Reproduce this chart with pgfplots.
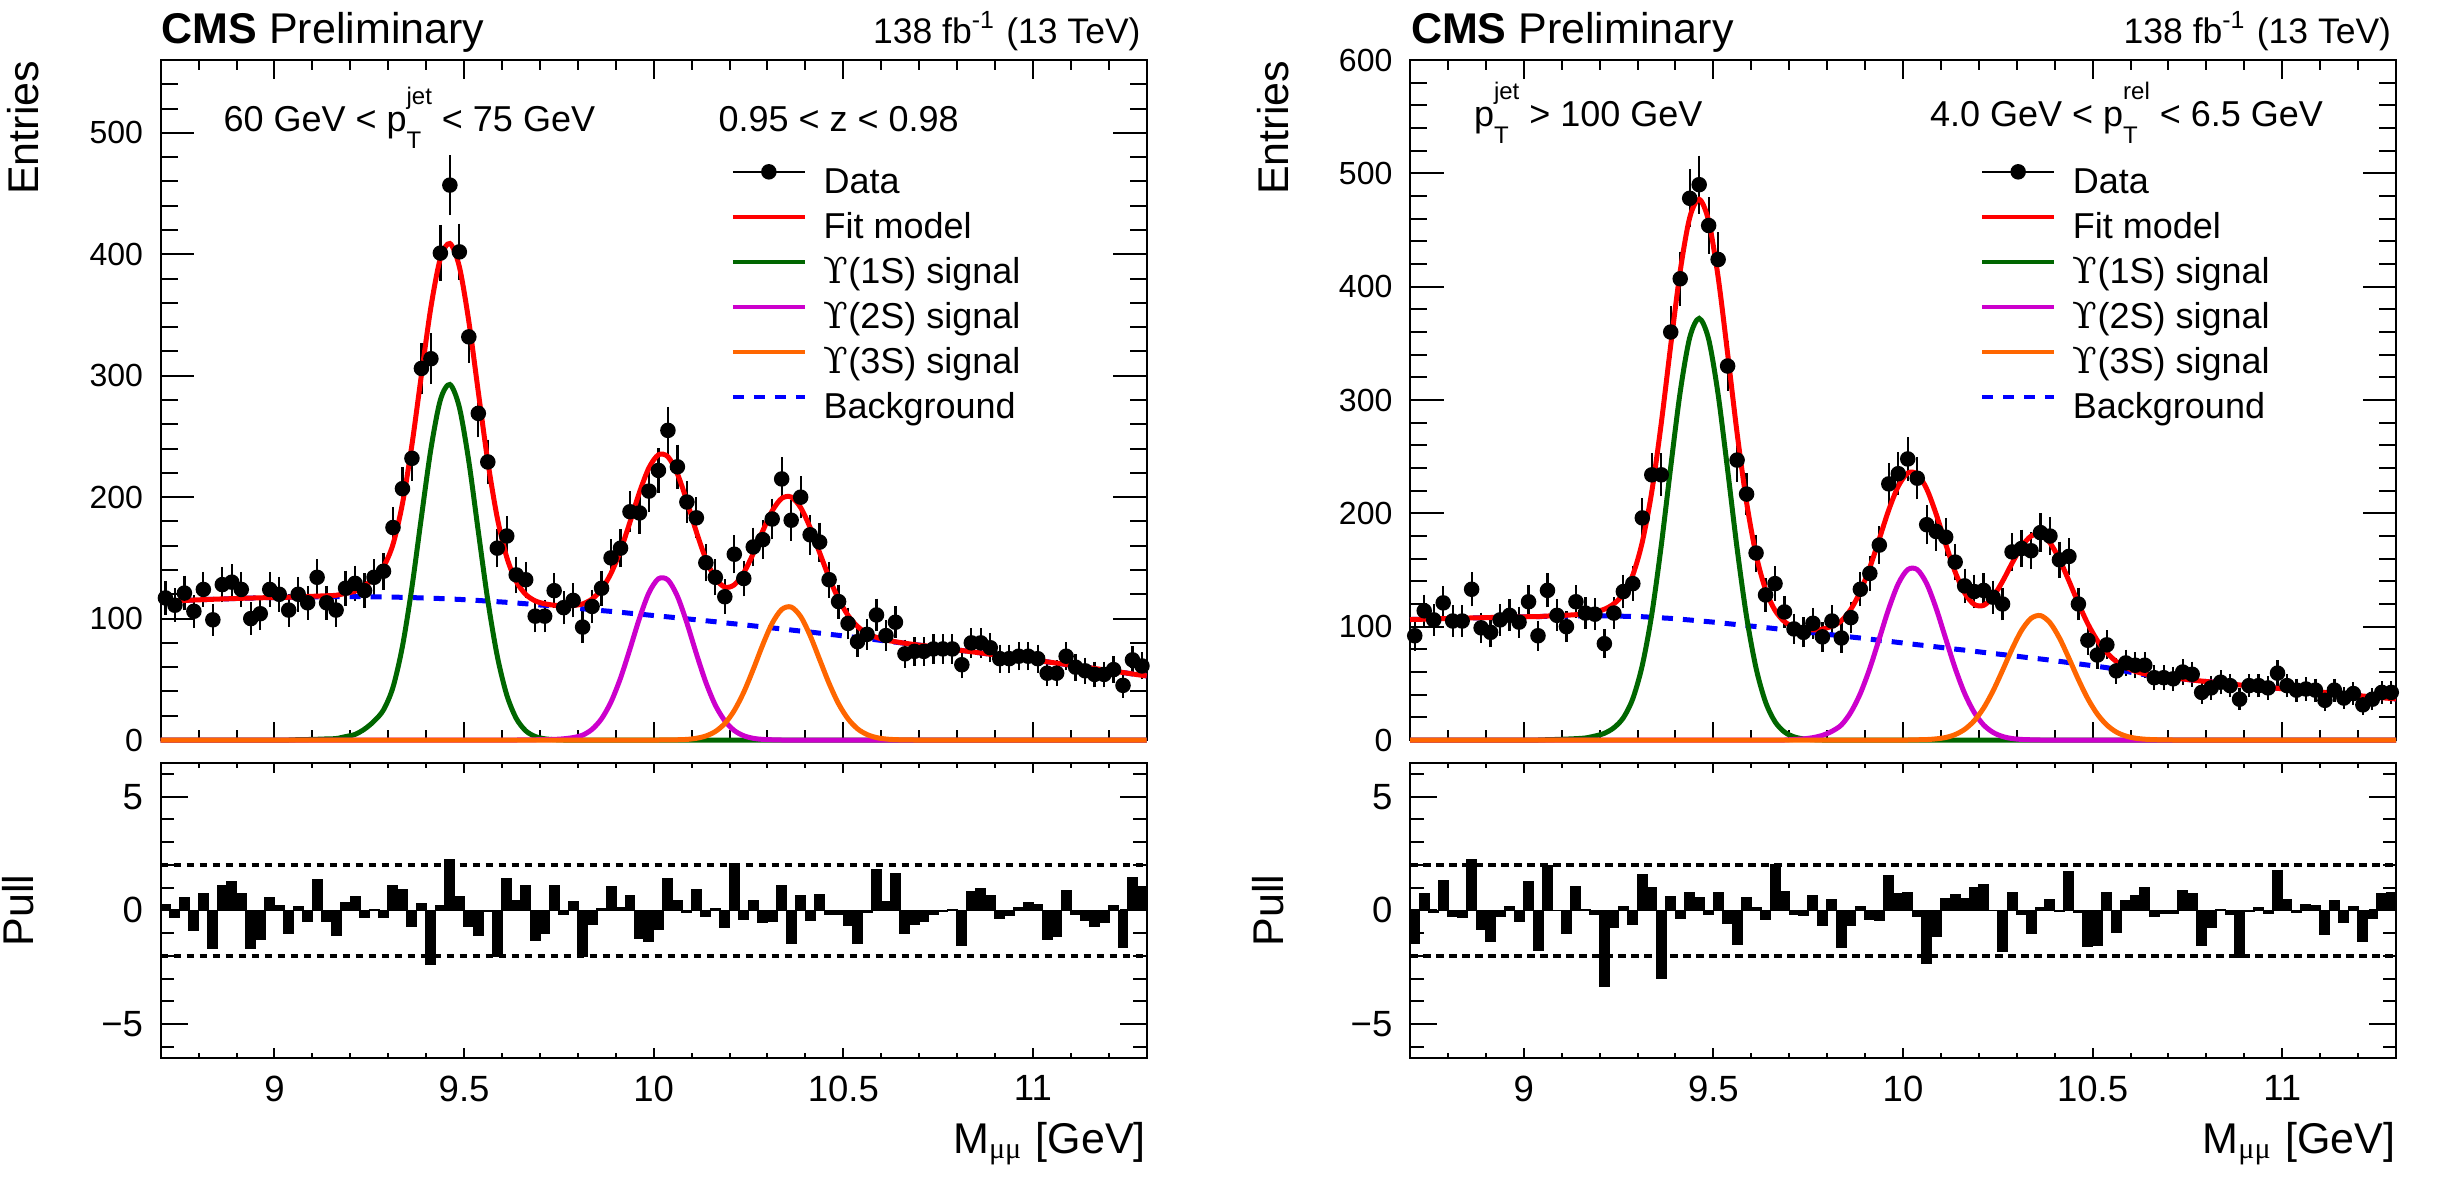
\documentclass[border=0pt]{standalone}
\usepackage{fontspec}
\setmainfont{Liberation Sans}
\newfontfamily\gr{Liberation Serif}
\newfontfamily\ups{DejaVu Serif}
\usepackage{pgfplots}
\usepackage{pgfplotstable}
\pgfplotsset{compat=1.18}

\definecolor{cgreen}{RGB}{0,102,0}
\definecolor{cmag}{RGB}{204,0,204}
\definecolor{corange}{RGB}{255,102,0}

\newcommand\fCMS{\fontsize{8.6}{10}\selectfont}
\newcommand\fLumi{\fontsize{7.1}{8.5}\selectfont}
\newcommand\fIn{\fontsize{7.2}{8.6}\selectfont}
\newcommand\fTit{\fontsize{8.6}{10}\selectfont}
\newcommand\fTickM{\fontsize{6.4}{7.6}\selectfont}
\newcommand\fTickP{\fontsize{7.3}{8.7}\selectfont}
\newcommand\fSS{\fontsize{4.8}{5.2}\selectfont}
% stacked subscript / superscript as in ROOT's p_{T}^{jet}
\newcommand\subsup[2]{\rlap{\raisebox{-3.4pt}{\fSS #1}}\raisebox{5.4pt}{\fSS #2}}
\newcommand\Ups{{\ups ϒ}}

\pgfplotstableread{
x N e p
8.7125 117 10.8 0.26
8.7375 111 10.5 -0.29
8.7625 121 11.0 0.55
8.7875 106 10.3 -0.86
8.8125 124 11.1 0.74
8.8375 99 9.9 -1.66
8.8625 128 11.3 1.10
8.8875 130 11.4 1.25
8.9125 124 11.1 0.71
8.9375 100 10.0 -1.66
8.9625 104 10.2 -1.25
8.9875 124 11.1 0.57
9.0125 120 11.0 0.20
9.0375 107 10.3 -1.02
9.0625 120 11.0 0.15
9.0875 113 10.6 -0.50
9.1125 134 11.6 1.35
9.1375 113 10.6 -0.50
9.1625 107 10.3 -1.08
9.1875 125 11.2 0.35
9.2125 129 11.4 0.58
9.2375 123 11.1 -0.32
9.2625 134 11.6 0.03
9.2875 139 11.8 -0.30
9.3125 175 13.2 1.10
9.3375 207 14.4 0.89
9.3625 232 15.2 -0.71
9.3875 306 17.5 0.28
9.4125 314 17.7 -2.39
9.4375 401 20.0 0.20
9.4625 457 21.4 2.23
9.4875 402 20.0 0.61
9.5125 332 18.2 -0.71
9.5375 269 16.4 -1.08
9.5625 229 15.1 -0.03
9.5875 158 12.6 -2.00
9.6125 168 13.0 1.37
9.6375 136 11.7 0.44
9.6625 132 11.5 1.08
9.6875 102 10.1 -1.31
9.7125 102 10.1 -1.00
9.7375 123 11.1 1.08
9.7625 109 10.4 -0.17
9.7875 115 10.7 0.36
9.8125 93 9.6 -2.04
9.8375 110 10.5 -0.60
9.8625 125 11.2 0.06
9.8875 150 12.2 1.06
9.9125 158 12.6 0.13
9.9375 188 13.7 0.63
9.9625 187 13.7 -1.22
9.9875 205 14.3 -1.37
10.0125 222 14.9 -0.83
10.0375 255 16.0 1.37
10.0625 225 15.0 0.42
10.0875 196 14.0 -0.07
10.1125 183 13.5 0.89
10.1375 146 12.1 -0.25
10.1625 134 11.6 0.07
10.1875 118 10.9 -0.76
10.2125 153 12.4 2.05
10.2375 133 11.5 -0.39
10.2625 159 12.6 0.42
10.2875 165 12.8 -0.52
10.3125 182 13.5 -0.49
10.3375 215 14.7 1.09
10.3625 181 13.5 -1.44
10.3875 200 14.1 0.63
10.4125 169 13.0 -0.42
10.4375 163 12.8 0.67
10.4625 132 11.5 -0.17
10.4875 114 10.7 -0.17
10.5125 96 9.8 -0.64
10.5375 81 9.0 -1.44
10.5625 87 9.3 -0.09
10.5875 103 10.1 1.79
10.6125 86 9.3 0.38
10.6375 97 9.8 1.63
10.6625 71 8.4 -1.00
10.6875 73 8.5 -0.61
10.7125 73 8.5 -0.49
10.7375 75 8.7 -0.17
10.7625 75 8.7 -0.06
10.7875 75 8.7 0.04
10.8125 62 7.9 -1.54
10.8375 80 8.9 0.84
10.8625 80 8.9 0.95
10.8875 76 8.7 0.64
10.9125 67 8.2 -0.35
10.9375 67 8.2 -0.22
10.9625 69 8.3 0.12
10.9875 69 8.3 0.35
11.0125 67 8.2 0.25
11.0375 55 7.4 -1.28
11.0625 55 7.4 -1.15
11.0875 69 8.3 0.86
11.1125 60 7.7 -0.16
11.1375 57 7.5 -0.42
11.1625 54 7.3 -0.70
11.1875 54 7.3 -0.54
11.2125 58 7.6 0.20
11.2375 45 6.7 -1.62
11.2625 66 8.1 1.44
11.2875 61 7.8 1.02
}\dataL

\pgfplotstableread{
x fit bkg sa sb sc
8.7 114.0 114.0 0 0 0
8.7125 114.2 114.2 0 0 0
8.7375 114.6 114.6 0 0 0
8.7625 114.9 114.9 0 0 0
8.7875 115.3 115.3 0 0 0
8.8125 115.6 115.6 0 0 0
8.8375 115.9 115.9 0 0 0
8.8625 116.2 116.2 0 0 0
8.8875 116.4 116.4 0 0 0
8.9125 116.7 116.7 0 0 0
8.9375 116.9 116.9 0 0 0
8.9625 117.1 117.1 0 0 0
8.9875 117.3 117.3 0 0 0
9.0125 117.4 117.4 0 0 0
9.0375 117.6 117.6 0 0 0
9.0625 118.0 117.7 0.3 0 0
9.0875 118.2 117.8 0.4 0 0
9.1125 118.5 117.9 0.6 0 0
9.1375 118.8 117.9 0.9 0 0
9.1625 119.2 118.0 1.2 0 0
9.1875 120.8 118.0 2.8 0 0
9.2125 122.6 118.0 4.6 0 0
9.2375 127.0 118.0 9.0 0 0
9.2625 133.4 117.9 15.5 0 0
9.2875 142.6 117.8 24.8 0 0
9.3125 161.1 117.7 43.4 0 0
9.3375 194.7 117.5 77.2 0 0
9.3625 243.2 117.3 125.9 0 0
9.3875 300.7 117.0 183.7 0 0
9.4125 356.5 116.8 239.7 0 0
9.4375 396.6 116.5 280.1 0 0
9.4625 408.9 116.1 292.8 0 0
9.4875 389.8 115.8 274.0 0 0
9.5125 344.7 115.3 229.4 0 0
9.5375 286.6 114.9 171.7 0 0
9.5625 229.5 114.4 115.1 0 0
9.5875 183.0 113.9 69.1 0 0
9.6125 150.5 113.4 37.1 0 0
9.6375 130.6 112.8 17.8 0 0
9.6625 119.9 112.2 7.6 0.1 0
9.6875 114.6 111.5 2.9 0.2 0
9.7125 112.2 110.9 1.0 0.3 0
9.7375 111.0 110.2 0.3 0.5 0
9.7625 110.5 109.5 0 1.0 0
9.7875 110.8 108.8 0 2.0 0
9.8125 112.1 108.1 0 4.0 0
9.8375 116.1 107.3 0 8.8 0
9.8625 124.1 106.6 0 17.5 0
9.8875 137.3 105.9 0 31.4 0
9.9125 156.2 105.2 0 51.0 0
9.9375 179.5 104.4 0 75.1 0
9.9625 204.0 103.7 0 100.3 0
9.9875 224.2 102.9 0 121.3 0
10.0125 234.9 102.1 0 132.8 0
10.0375 233.3 101.4 0 131.8 0.1
10.0625 219.2 100.6 0 118.4 0.2
10.0875 196.7 99.8 0 96.4 0.5
10.1125 171.5 99.0 0 71.1 1.4
10.1375 149.0 98.2 0 47.5 3.3
10.1625 133.1 97.4 0 28.7 7.0
10.1875 125.9 96.5 0 15.8 13.6
10.2125 127.8 95.7 0 7.8 24.3
10.2375 137.8 94.9 0 3.5 39.4
10.2625 153.6 94.0 0 1.4 58.2
10.2875 172.1 93.2 0 0.5 78.4
10.3125 188.7 92.3 0 0.2 96.2
10.3375 199.0 91.5 0 0 107.5
10.3625 200.1 90.6 0 0 109.5
10.3875 191.4 89.7 0 0 101.7
10.4125 174.9 88.9 0 0 86.0
10.4375 154.3 88.0 0 0 66.3
10.4625 133.7 87.1 0 0 46.6
10.4875 116.0 86.2 0 0 29.8
10.5125 102.6 85.2 0 0 17.4
10.5375 93.5 84.3 0 0 9.2
10.5625 87.9 83.4 0 0 4.5
10.5875 84.5 82.5 0 0 2.0
10.6125 82.3 81.5 0 0 0.8
10.6375 80.9 80.6 0 0 0.3
10.6625 79.7 79.6 0 0 0.1
10.6875 78.6 78.6 0 0 0
10.7125 77.7 77.7 0 0 0
10.7375 76.7 76.7 0 0 0
10.7625 75.7 75.7 0 0 0
10.7875 74.7 74.7 0 0 0
10.8125 73.7 73.7 0 0 0
10.8375 72.7 72.7 0 0 0
10.8625 71.7 71.7 0 0 0
10.8875 70.6 70.6 0 0 0
10.9125 69.6 69.6 0 0 0
10.9375 68.6 68.6 0 0 0
10.9625 67.5 67.5 0 0 0
10.9875 66.5 66.5 0 0 0
11.0125 65.4 65.4 0 0 0
11.0375 64.4 64.4 0 0 0
11.0625 63.3 63.3 0 0 0
11.0875 62.2 62.2 0 0 0
11.1125 61.1 61.1 0 0 0
11.1375 60.0 60.0 0 0 0
11.1625 58.9 58.9 0 0 0
11.1875 57.8 57.8 0 0 0
11.2125 56.7 56.7 0 0 0
11.2375 55.6 55.6 0 0 0
11.2625 54.4 54.4 0 0 0
11.2875 53.3 53.3 0 0 0
11.3 52.8 52.8 0 0 0
}\curveL

\pgfplotstableread{
x N e p
8.7125 92 9.6 -1.43
8.7375 114 10.7 0.73
8.7625 106 10.3 -0.09
8.7875 121 11.0 1.30
8.8125 105 10.2 -0.26
8.8375 105 10.2 -0.29
8.8625 133 11.5 2.21
8.8875 99 9.9 -0.82
8.9125 95 9.7 -1.35
8.9375 106 10.3 -0.26
8.9625 110 10.5 0.17
8.9875 104 10.2 -0.48
9.0125 122 11.0 1.24
9.0375 92 9.6 -1.76
9.0625 132 11.5 1.95
9.0875 110 10.5 0.00
9.1125 100 10.0 -0.99
9.1375 122 11.0 1.06
9.1625 112 10.6 0.03
9.1875 111 10.5 -0.19
9.2125 85 9.2 -3.36
9.2375 112 10.6 -0.74
9.2625 131 11.4 0.17
9.2875 138 11.7 -0.63
9.3125 196 14.0 1.56
9.3375 234 15.3 1.00
9.3625 234 15.3 -3.00
9.3875 360 19.0 0.61
9.4125 407 20.2 -0.33
9.4375 478 21.9 0.79
9.4625 490 22.1 0.57
9.4875 454 21.3 -0.19
9.5125 424 20.6 0.77
9.5375 330 18.2 -0.58
9.5625 247 15.7 -1.50
9.5875 217 14.7 0.54
9.6125 165 12.8 0.13
9.6375 128 11.3 -0.38
9.6625 138 11.7 2.02
9.6875 113 10.6 0.83
9.7125 98 9.9 -0.15
9.7375 95 9.7 -0.22
9.7625 103 10.1 0.64
9.7875 91 9.5 -0.67
9.8125 105 10.2 0.45
9.8375 90 9.5 -1.62
9.8625 108 10.4 -0.66
9.8875 133 11.5 0.17
9.9125 147 12.1 -0.41
9.9375 172 13.1 -0.44
9.9625 226 15.0 1.53
9.9875 235 15.3 0.71
10.0125 248 15.7 0.79
10.0375 231 15.2 -0.26
10.0625 190 13.8 -2.33
10.0875 184 13.6 -1.14
10.1125 179 13.4 0.49
10.1375 157 12.5 0.70
10.1625 136 11.7 0.51
10.1875 131 11.4 0.99
10.2125 132 11.5 1.14
10.2375 126 11.2 0.00
10.2625 120 11.0 -1.79
10.2875 166 12.9 0.77
10.3125 169 13.0 -0.16
10.3375 167 12.9 -0.99
10.3625 183 13.5 0.10
10.3875 180 13.4 0.47
10.4125 159 12.6 -0.04
10.4375 162 12.7 1.70
10.4625 120 11.0 -0.07
10.4875 88 9.4 -1.60
10.5125 75 8.7 -1.54
10.5375 84 9.2 0.77
10.5625 61 7.8 -0.96
10.5875 68 8.2 0.42
10.6125 66 8.1 0.66
10.6375 66 8.1 0.99
10.6625 55 7.4 -0.28
10.6875 55 7.4 -0.12
10.7125 54 7.3 -0.12
10.7375 60 7.7 0.86
10.7625 58 7.6 0.71
10.7875 42 6.5 -1.54
10.8125 46 6.8 -0.74
10.8375 51 7.1 0.03
10.8625 48 6.9 -0.16
10.8875 36 6.0 -2.05
10.9125 48 6.9 -0.04
10.9375 48 6.9 0.10
10.9625 46 6.8 -0.12
10.9875 59 7.7 1.75
11.0125 48 6.9 0.45
11.0375 44 6.6 -0.07
11.0625 45 6.7 0.25
11.0875 44 6.6 0.22
11.1125 35 5.9 -1.06
11.1375 44 6.6 0.42
11.1625 37 6.1 -0.51
11.1875 41 6.4 0.15
11.2125 31 5.6 -1.38
11.2375 36 6.0 -0.36
11.2625 42 6.5 0.71
11.2875 42 6.5 0.79
}\dataR

\pgfplotstableread{
x fit bkg sa sb sc
8.7 106.3 106.3 0 0 0
8.7125 106.4 106.4 0 0 0
8.7375 106.6 106.6 0 0 0
8.7625 106.9 106.9 0 0 0
8.7875 107.1 107.1 0 0 0
8.8125 107.3 107.3 0 0 0
8.8375 107.5 107.5 0 0 0
8.8625 107.7 107.7 0 0 0
8.8875 107.9 107.9 0 0 0
8.9125 108.1 108.1 0 0 0
8.9375 108.3 108.3 0 0 0
8.9625 108.4 108.4 0 0 0
8.9875 108.6 108.6 0 0 0
9.0125 108.8 108.8 0 0 0
9.0375 108.9 108.9 0 0 0
9.0625 109.4 109.1 0.3 0 0
9.0875 109.7 109.2 0.5 0 0
9.1125 110.1 109.3 0.8 0 0
9.1375 110.6 109.4 1.2 0 0
9.1625 111.3 109.5 1.8 0 0
9.1875 113.1 109.6 3.5 0 0
9.2125 115.4 109.5 5.9 0 0
9.2375 120.2 109.4 10.8 0 0
9.2625 128.8 109.2 19.6 0 0
9.2875 145.6 109.1 36.5 0 0
9.3125 174.7 108.8 65.9 0 0
9.3375 219.1 108.3 110.8 0 0
9.3625 279.4 107.8 171.6 0 0
9.3875 348.4 107.3 241.1 0 0
9.4125 413.8 106.6 307.2 0 0
9.4375 460.9 105.9 355.0 0 0
9.4625 477.1 105.1 372.0 0 0
9.4875 458.0 104.4 353.6 0 0
9.5125 408.4 103.6 304.8 0 0
9.5375 341.0 102.7 238.3 0 0
9.5625 270.8 101.8 169.0 0 0
9.5875 209.6 100.9 108.7 0 0
9.6125 163.5 100.1 63.4 0 0
9.6375 132.7 99.2 33.5 0 0
9.6625 114.4 98.3 16.1 0 0
9.6875 104.4 97.4 7.0 0 0
9.7125 99.8 96.5 2.8 0.5 0
9.7375 97.6 95.6 1.0 1.0 0
9.7625 97.1 94.7 0.3 2.1 0
9.7875 97.9 93.8 0 4.1 0
9.8125 100.5 92.8 0 7.7 0
9.8375 105.2 91.9 0 13.3 0
9.8625 115.4 90.9 0 24.5 0
9.8875 131.1 90.0 0 41.1 0
9.9125 152.3 89.0 0 63.3 0
9.9375 177.5 88.0 0 89.5 0
9.9625 203.1 87.1 0 116.0 0
9.9875 224.0 86.1 0 137.9 0
10.0125 235.5 85.1 0 150.4 0
10.0375 234.7 84.1 0 150.4 0.2
10.0625 221.5 83.2 0 137.9 0.4
10.0875 199.2 82.2 0 116.0 1.0
10.1125 172.9 81.2 0 89.5 2.2
10.1375 148.3 80.2 0 63.3 4.8
10.1625 129.8 79.3 0 41.1 9.4
10.1875 119.7 78.3 0 24.5 16.9
10.2125 118.8 77.3 0 13.3 28.2
10.2375 126.4 76.3 0 6.7 43.4
10.2625 140.0 75.4 0 3.1 61.5
10.2875 156.0 74.4 0 1.3 80.3
10.3125 170.6 73.4 0 0.5 96.7
10.3375 179.9 72.4 0 0.2 107.3
10.3625 181.3 71.5 0 0 109.8
10.3875 174.0 70.5 0 0 103.5
10.4125 159.4 69.4 0 0 90.0
10.4375 140.4 68.3 0 0 72.1
10.4625 120.5 67.2 0 0 53.3
10.4875 102.4 66.1 0 0 36.3
10.5125 87.7 64.9 0 0 22.8
10.5375 77.0 63.8 0 0 13.2
10.5625 69.2 62.2 0 0 7.0
10.5875 64.1 60.6 0 0 3.5
10.6125 60.6 59.0 0 0 1.6
10.6375 58.3 57.6 0 0 0.7
10.6625 56.9 56.6 0 0 0.3
10.6875 55.8 55.7 0 0 0.1
10.7125 54.8 54.8 0 0 0
10.7375 53.9 53.9 0 0 0
10.7625 52.9 52.9 0 0 0
10.7875 52.0 52.0 0 0 0
10.8125 51.2 51.2 0 0 0
10.8375 50.3 50.3 0 0 0
10.8625 49.5 49.5 0 0 0
10.8875 48.6 48.6 0 0 0
10.9125 47.8 47.8 0 0 0
10.9375 47.1 47.1 0 0 0
10.9625 46.3 46.3 0 0 0
10.9875 45.6 45.6 0 0 0
11.0125 44.8 44.8 0 0 0
11.0375 44.1 44.1 0 0 0
11.0625 43.4 43.4 0 0 0
11.0875 42.7 42.7 0 0 0
11.1125 41.9 41.9 0 0 0
11.1375 41.1 41.1 0 0 0
11.1625 40.4 40.4 0 0 0
11.1875 39.6 39.6 0 0 0
11.2125 38.8 38.8 0 0 0
11.2375 38.1 38.1 0 0 0
11.2625 37.3 37.3 0 0 0
11.2875 36.6 36.6 0 0 0
11.3 36.3 36.3 0 0 0
}\curveR

\pgfplotsset{
  common/.style={
    scale only axis, width=197.2pt, xmin=8.7, xmax=11.3,
    xtick={9,9.5,10,10.5,11},
    minor xtick={8.8,8.9,9.1,9.2,9.3,9.4,9.6,9.7,9.8,9.9,10.1,10.2,10.3,10.4,10.6,10.7,10.8,10.9,11.1,11.2},
    tick align=inside, tick pos=both,
    axis line style={line width=0.4pt},
    tick style={black, line width=0.4pt},
    clip=false},
  mainax/.style={common, height=136pt, ymin=0, xticklabels={},
    major tick length=6.7pt, minor tick length=3.4pt,
    xtick style={/pgfplots/major tick length=3.7pt,/pgfplots/minor tick length=2pt},
    yticklabel style={font=\fTickM},
    legend image code/.code={\draw[##1] (0pt,2.4pt) -- (14.4pt,2.4pt);},
    legend cell align=left,
    legend style={at={(0.578,0.847)}, anchor=north west, draw=none, fill=none,
      inner sep=0pt, outer sep=0pt, row sep=2pt, column sep=3.3pt,
      nodes={inner sep=0pt, text height=5.5pt, text depth=1.5pt, font=\fIn}}},
  pullax/.style={common, height=59.06pt, ymin=-6.5, ymax=6.5,
    ytick={-5,0,5}, yticklabels={−5,0,5},
    minor ytick={-6,-4,-3,-2,-1,1,2,3,4,6},
    xticklabels={9,9.5,10,10.5,11},
    major tick length=5.4pt, minor tick length=2.7pt,
    xtick style={/pgfplots/major tick length=2.1pt,/pgfplots/minor tick length=1.1pt},
    ticklabel style={font=\fTickP}},
  datast/.style={only marks, mark=*, mark size=1.35pt, black, forget plot,
    error bars/.cd, y dir=both, y explicit,
    error bar style={line width=0.45pt, black},
    error mark options={line width=0.45pt, mark size=0.8pt, black}},
  cst/.style={line width=1pt, smooth, forget plot},
}

\newcommand\legendstuff{%
  \addlegendimage{legend image code/.code={\draw[black,line width=0.45pt] (0pt,2.4pt) -- (14.4pt,2.4pt); \fill[black] (7.2pt,2.4pt) circle (1.35pt);}}
  \addlegendentry{Data}
  \addlegendimage{red, line width=0.9pt}
  \addlegendentry{Fit model}
  \addlegendimage{cgreen, line width=0.9pt}
  \addlegendentry{\Ups(1S) signal}
  \addlegendimage{cmag, line width=0.9pt}
  \addlegendentry{\Ups(2S) signal}
  \addlegendimage{corange, line width=0.9pt}
  \addlegendentry{\Ups(3S) signal}
  \addlegendimage{blue, line width=0.9pt, dash pattern=on 2.2pt off 2pt}
  \addlegendentry{Background}}

\newcommand\mainplots[2]{%
  \addplot[datast] table[x=x, y=N, y error=e] {#1};
  \addplot[cst, blue, dash pattern=on 2.2pt off 2pt] table[x=x, y=bkg] {#2};
  \addplot[cst, cgreen] table[x=x, y=sa] {#2};
  \addplot[cst, cmag] table[x=x, y=sb] {#2};
  \addplot[cst, corange] table[x=x, y=sc] {#2};
  \addplot[cst, red] table[x=x, y=fit] {#2};}

\newcommand\pullplots[1]{%
  \addplot[ybar, bar width=0.025, fill=black, draw=black, line width=0.3pt, forget plot] table[x=x, y=p] {#1};
  \addplot[black, line width=0.7pt, dash pattern=on 1.5pt off 1.1pt, forget plot] coordinates {(8.7,2) (11.3,2)};
  \addplot[black, line width=0.7pt, dash pattern=on 1.5pt off 1.1pt, forget plot] coordinates {(8.7,-2) (11.3,-2)};}

\begin{document}
\begin{tikzpicture}
\path[use as bounding box] (0,0) rectangle (492pt,236pt);

% ---------- left panel ----------
\begin{axis}[mainax, at={(32.14pt,88pt)}, anchor=south west, ymax=560,
  ytick={0,100,200,300,400,500}, yticklabels={0,100,200,300,400,500},
  minor ytick={20,40,60,80,120,140,160,180,220,240,260,280,320,340,360,380,420,440,460,480,520,540}]
\legendstuff
\mainplots{\dataL}{\curveL}
\end{axis}
\begin{axis}[pullax, at={(32.14pt,24.4pt)}, anchor=south west]
\pullplots{\dataL}
\end{axis}

% ---------- right panel ----------
\begin{axis}[mainax, at={(282pt,88pt)}, anchor=south west, ymax=600,
  ytick={0,100,200,300,400,500,600}, yticklabels={0,100,200,300,400,500,600},
  minor ytick={20,40,60,80,120,140,160,180,220,240,260,280,320,340,360,380,420,440,460,480,520,540,560,580}]
\legendstuff
\mainplots{\dataR}{\curveR}
\end{axis}
\begin{axis}[pullax, at={(282pt,24.4pt)}, anchor=south west]
\pullplots{\dataR}
\end{axis}

% ---------- texts ----------
\node[anchor=base west, inner sep=0pt, font=\fCMS] at (32.14pt,227.2pt) {\textbf{CMS} Preliminary};
\node[anchor=base east, inner sep=0pt, font=\fLumi] at (228.3pt,227.3pt) {138 fb\textsuperscript{-1} (13 TeV)};
\node[anchor=base west, inner sep=0pt, font=\fIn] at (44.5pt,209.7pt) {60 GeV < p\subsup{T}{jet} < 75 GeV};
\node[anchor=base west, inner sep=0pt, font=\fIn] at (143.5pt,209.7pt) {0.95 < z < 0.98};
\node[rotate=90, anchor=base east, inner sep=0pt, font=\fTit] at (7.66pt,224pt) {Entries};
\node[rotate=90, anchor=base, inner sep=0pt, font=\fTit] at (6.7pt,53.93pt) {Pull};
\node[anchor=base east, inner sep=0pt, font=\fTit] at (229.34pt,5.4pt) {M\textsubscript{\gr μμ} [GeV]};

\node[anchor=base west, inner sep=0pt, font=\fCMS] at (282pt,227.2pt) {\textbf{CMS} Preliminary};
\node[anchor=base east, inner sep=0pt, font=\fLumi] at (478.4pt,227.3pt) {138 fb\textsuperscript{-1} (13 TeV)};
\node[anchor=base west, inner sep=0pt, font=\fIn] at (294.6pt,210.7pt) {p\subsup{T}{jet} > 100 GeV};
\node[anchor=base west, inner sep=0pt, font=\fIn] at (385.8pt,210.7pt) {4.0 GeV < p\subsup{T}{rel} < 6.5 GeV};
\node[rotate=90, anchor=base east, inner sep=0pt, font=\fTit] at (257.6pt,224pt) {Entries};
\node[rotate=90, anchor=base, inner sep=0pt, font=\fTit] at (256.6pt,53.93pt) {Pull};
\node[anchor=base east, inner sep=0pt, font=\fTit] at (479.2pt,5.4pt) {M\textsubscript{\gr μμ} [GeV]};
\end{tikzpicture}
\end{document}
